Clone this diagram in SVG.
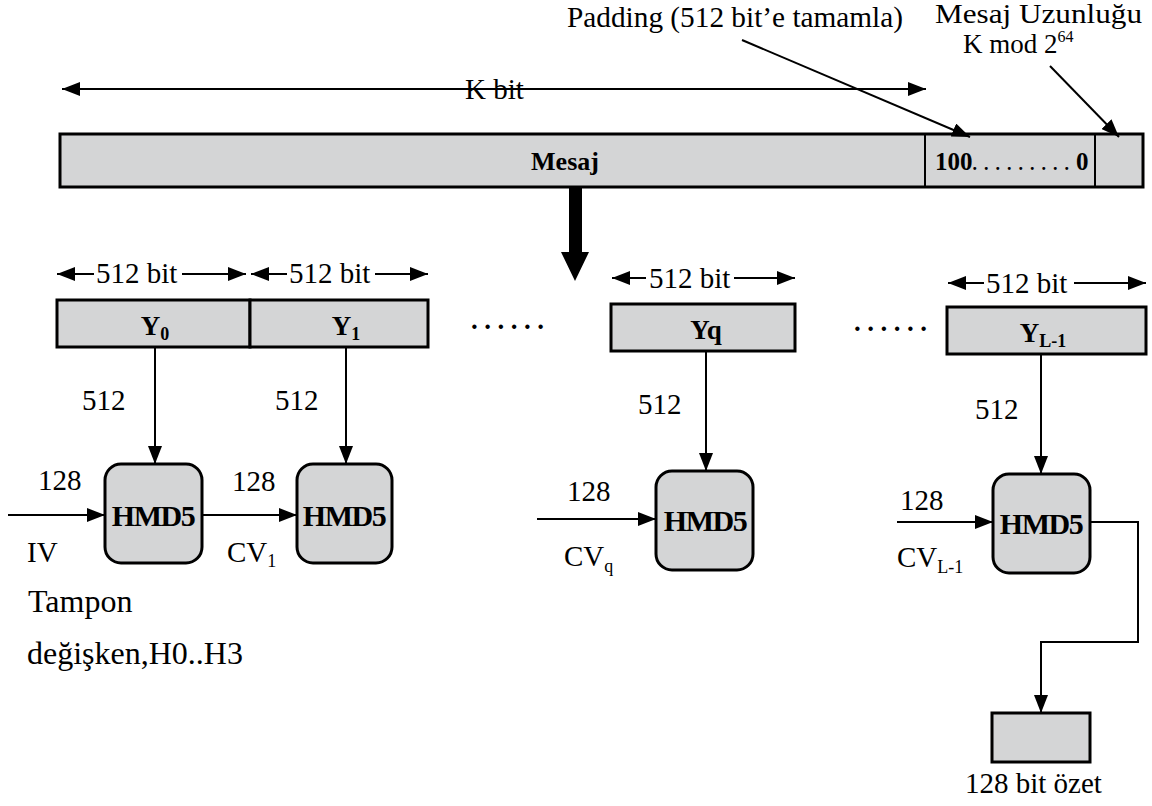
<svg xmlns="http://www.w3.org/2000/svg" width="1152" height="806" viewBox="0 0 1152 806">
<defs>
<marker id="ahs" viewBox="0 0 10 10" refX="10" refY="5" markerWidth="18" markerHeight="14" markerUnits="userSpaceOnUse" orient="auto-start-reverse" preserveAspectRatio="none">
<path d="M0,0 L10,5 L0,10 z" fill="#000"/>
</marker>
</defs>
<style>
text{font-family:"Liberation Serif","Times New Roman",serif;fill:#000;}
.t{font-size:29px;}
.b{font-size:27px;font-weight:bold;}
.h{font-size:30px;font-weight:bold;letter-spacing:-1.5px;}
.box{fill:#d4d5d6;stroke:#000;stroke-width:3;}
.ln{stroke:#000;stroke-width:2;fill:none;}
.la{stroke:#000;stroke-width:2;fill:none;marker-end:url(#ahs);}
</style>
<rect width="1152" height="806" fill="#fff"/>

<g id="labels-top">
<text class="t" x="567" y="27" textLength="336" lengthAdjust="spacingAndGlyphs">Padding (512 bit’e tamamla)</text>
<text class="t" x="935" y="23" style="font-size:27px" textLength="207" lengthAdjust="spacingAndGlyphs">Mesaj Uzunluğu</text>
<text class="t" x="963" y="53" style="font-size:27px">K mod 2<tspan dy="-11" style="font-size:16px">64</tspan></text>
<text class="t" x="465" y="99">K bit</text>
</g>

<g id="message-bar">
<rect class="box" x="60" y="134" width="1083" height="53"/>
<line class="ln" x1="925" y1="134" x2="925" y2="187" stroke-width="3"/>
<line class="ln" x1="1095" y1="134" x2="1095" y2="187" stroke-width="3"/>
<text class="b" x="565" y="170" text-anchor="middle" style="font-size:26px">Mesaj</text>
<text class="b" x="935" y="170" style="font-size:25px">100<tspan style="font-size:18px" letter-spacing="7">.........</tspan>0</text>
</g>

<g id="blocks">
<rect class="box" x="57" y="300" width="193" height="47"/>
<rect class="box" x="250" y="300" width="178" height="47"/>
<rect class="box" x="611" y="304" width="184" height="47"/>
<rect class="box" x="947" y="307" width="199" height="47"/>
<text class="b" x="155" y="335" text-anchor="middle">Y<tspan dy="5" style="font-size:18px">0</tspan></text>
<text class="b" x="346" y="335" text-anchor="middle">Y<tspan dy="5" style="font-size:18px">1</tspan></text>
<text class="b" x="706" y="339" text-anchor="middle">Yq</text>
<text class="b" x="1043" y="342" text-anchor="middle">Y<tspan dy="5" style="font-size:18px">L-1</tspan></text>
<text class="b" x="471" y="329" letter-spacing="6.5">......</text>
<text class="b" x="854" y="331" letter-spacing="6.5">......</text>
</g>

<g id="hmd5">
<rect class="box" x="105" y="464" width="97" height="99" rx="16"/>
<rect class="box" x="297" y="464" width="95" height="99" rx="16"/>
<rect class="box" x="656" y="471" width="97" height="99" rx="16"/>
<rect class="box" x="993" y="474" width="97" height="99" rx="16"/>
<text class="h" x="153" y="526" text-anchor="middle">HMD5</text>
<text class="h" x="344" y="526" text-anchor="middle">HMD5</text>
<text class="h" x="705" y="531" text-anchor="middle">HMD5</text>
<text class="h" x="1041" y="534" text-anchor="middle">HMD5</text>
<rect class="box" x="992" y="713" width="98" height="49"/>
</g>

<g id="connectors">
<line class="ln" x1="62" y1="89" x2="926" y2="89" marker-start="url(#ahs)" marker-end="url(#ahs)"/>
<line class="la" x1="742" y1="40" x2="970" y2="137"/>
<line class="la" x1="1050" y1="66" x2="1119" y2="137"/>
<polygon points="569,187 582,187 582,252 589,252 575,281 561,252 569,252" fill="#000"/>
<line class="ln" x1="57" y1="274" x2="94" y2="274" marker-start="url(#ahs)"/>
<line class="la" x1="182" y1="274" x2="246" y2="274"/>
<line class="ln" x1="251" y1="274" x2="287" y2="274" marker-start="url(#ahs)"/>
<line class="la" x1="375" y1="274" x2="428" y2="274"/>
<line class="ln" x1="612" y1="278" x2="646" y2="278" marker-start="url(#ahs)"/>
<line class="la" x1="734" y1="278" x2="795" y2="278"/>
<line class="ln" x1="948" y1="283" x2="984" y2="283" marker-start="url(#ahs)"/>
<line class="la" x1="1074" y1="283" x2="1146" y2="283"/>
<line class="la" x1="155" y1="347" x2="155" y2="464"/>
<line class="la" x1="346" y1="347" x2="346" y2="464"/>
<line class="la" x1="706" y1="351" x2="706" y2="471"/>
<line class="la" x1="1041" y1="354" x2="1041" y2="474"/>
<line class="la" x1="8" y1="515" x2="105" y2="515"/>
<line class="la" x1="202" y1="515" x2="297" y2="515"/>
<line class="la" x1="537" y1="519" x2="656" y2="519"/>
<line class="la" x1="897" y1="522" x2="993" y2="522"/>
<polyline class="la" points="1090,522 1138,522 1138,642 1041,642 1041,713"/>
</g>

<g id="labels">
<text class="t" x="96" y="283">512 bit</text>
<text class="t" x="289" y="283">512 bit</text>
<text class="t" x="649" y="288">512 bit</text>
<text class="t" x="986" y="293">512 bit</text>
<text class="t" x="82" y="410">512</text>
<text class="t" x="275" y="410">512</text>
<text class="t" x="638" y="414">512</text>
<text class="t" x="975" y="419">512</text>
<text class="t" x="38" y="490">128</text>
<text class="t" x="232" y="491">128</text>
<text class="t" x="567" y="501">128</text>
<text class="t" x="900" y="510">128</text>
<text class="t" x="27" y="562">IV</text>
<text class="t" x="227" y="562">CV<tspan dy="5" style="font-size:18px">1</tspan></text>
<text class="t" x="564" y="566">CV<tspan dy="6" style="font-size:18px">q</tspan></text>
<text class="t" x="897" y="567">CV<tspan dy="6" style="font-size:18px">L-1</tspan></text>
<text class="t" x="28" y="612" style="font-size:32px">Tampon</text>
<text class="t" x="27" y="664" style="font-size:32px">değişken,H0..H3</text>
<text class="t" x="965" y="793">128 bit özet</text>
</g>
</svg>
